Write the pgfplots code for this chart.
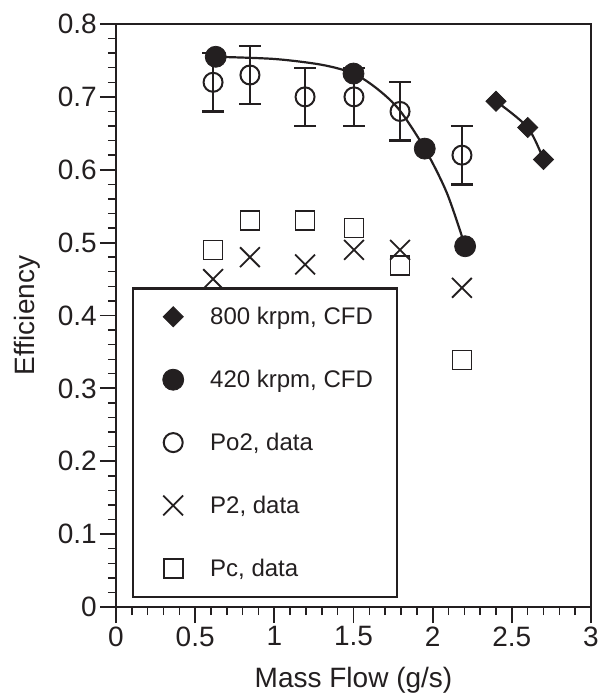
\documentclass[border=0pt]{standalone}
\usepackage{fontspec}
\setmainfont{Liberation Sans}
\usepackage{pgfplots}
\pgfplotsset{compat=1.18}
\definecolor{ink}{RGB}{35,31,32}
\begin{document}
\begin{tikzpicture}
\useasboundingbox (-116pt,-91pt) rectangle (493pt,607pt);
\begin{axis}[
 at={(0pt,0pt)}, anchor=south west,
 scale only axis, width=475pt, height=583pt,
 xmin=0, xmax=3, ymin=0, ymax=0.8,
 clip=false,
 axis background/.style={draw=ink, line width=2.6pt},
 xtick={0,0.5,1,1.5,2,2.5,3},
 ytick={0,0.1,0.2,0.3,0.4,0.5,0.6,0.7,0.8},
 xticklabels={0,0.5,1,1.5,2,2.5,3},
 yticklabels={0,0.1,0.2,0.3,0.4,0.5,0.6,0.7,0.8},
 minor x tick num=4, minor y tick num=4,
 tick align=outside, tick pos=left,
 major tick length=16pt, minor tick length=8pt,
 every major tick/.append style={ink, line width=1.8pt},
 every minor tick/.append style={ink, line width=1.4pt},
 axis line style={ink, line width=2.8pt},
 ticklabel style={font=\fontsize{28}{28}\selectfont, text=ink},
 yticklabel style={inner xsep=3pt},
 /pgf/number format/assume math mode=true,
 xlabel={Mass Flow (g/s)}, ylabel={Efficiency},
 every axis x label/.style={at={(rel axis cs:0.5,0)}, yshift=-73pt, anchor=center, font=\fontsize{28}{28}\selectfont, text=ink},
 every axis y label/.style={at={(rel axis cs:0,0.5)}, xshift=-89pt, anchor=center, rotate=90, font=\fontsize{28}{28}\selectfont, text=ink},
 legend style={at={(0.0337,0.0154)}, anchor=south west, draw=ink, line width=2.4pt, fill=white,
   font=\fontsize{24}{24}\selectfont, text=ink, inner xsep=0pt, inner ysep=17pt, row sep=40pt},
 legend cell align=left,
 legend image code/.code={\path[draw=none,fill=none] (-40pt,0pt) -- (35pt,0pt); \draw[mark repeat=1, mark phase=1, #1] plot coordinates {(0pt,0pt)};},
]
\addplot[ink, line width=2.2pt, smooth, forget plot] coordinates {(2.4,0.694)(2.6,0.658)(2.7,0.614)};
\addplot[ink, line width=2.2pt, smooth, forget plot] coordinates {(0.63,0.755)(1.0,0.752)(1.3,0.744)(1.5,0.732)(1.65,0.711)(1.79,0.682)(1.95,0.629)(2.09,0.568)(2.205,0.495)};
\addplot[ink, only marks, mark=square*, mark size=7.1pt, mark options={rotate=45, fill=ink, draw=ink, line width=0.8pt}] coordinates {(2.4,0.694)(2.6,0.658)(2.7,0.614)};
\addlegendentry{\makebox[185pt][l]{800 krpm, CFD}}
\addplot[ink, only marks, mark=*, mark size=10.5pt, mark options={fill=ink, draw=ink, line width=0.8pt}] coordinates {(0.63,0.755)(1.5,0.732)(1.95,0.629)(2.205,0.495)};
\addlegendentry{\makebox[185pt][l]{420 krpm, CFD}}
\addplot[ink, only marks, mark=o, mark size=9.5pt, line width=2pt,
  error bars/.cd, y dir=both, y explicit,
  error bar style={line width=2.4pt, ink},
  error mark options={line width=2.4pt, mark size=11pt, ink, rotate=90}] coordinates {
 (0.613,0.72) +- (0,0.04)
 (0.846,0.73) +- (0,0.04)
 (1.194,0.70) +- (0,0.04)
 (1.503,0.70) +- (0,0.04)
 (1.794,0.68) +- (0,0.04)
 (2.185,0.62) +- (0,0.04)};
\addlegendentry{\makebox[185pt][l]{Po2, data}}
\addplot[ink, only marks, mark=x, mark size=14pt, line width=1.8pt] coordinates {(0.613,0.45)(0.846,0.48)(1.194,0.47)(1.503,0.49)(1.794,0.49)(2.185,0.438)};
\addlegendentry{\makebox[185pt][l]{P2, data}}
\addplot[ink, only marks, mark=square, mark size=9.5pt, line width=1.8pt] coordinates {(0.613,0.49)(0.846,0.53)(1.194,0.53)(1.503,0.52)(1.794,0.469)(2.185,0.339)};
\addlegendentry{\makebox[185pt][l]{Pc, data}}
\end{axis}
\fill[ink] ([shift={(-1.3pt,-1.3pt)}]current axis.north west) rectangle ([shift={(1.3pt,1.3pt)}]current axis.north east);
\fill[ink] ([shift={(-1.3pt,-1.3pt)}]current axis.south east) rectangle ([shift={(1.3pt,1.3pt)}]current axis.north east);
\end{tikzpicture}
\end{document}
